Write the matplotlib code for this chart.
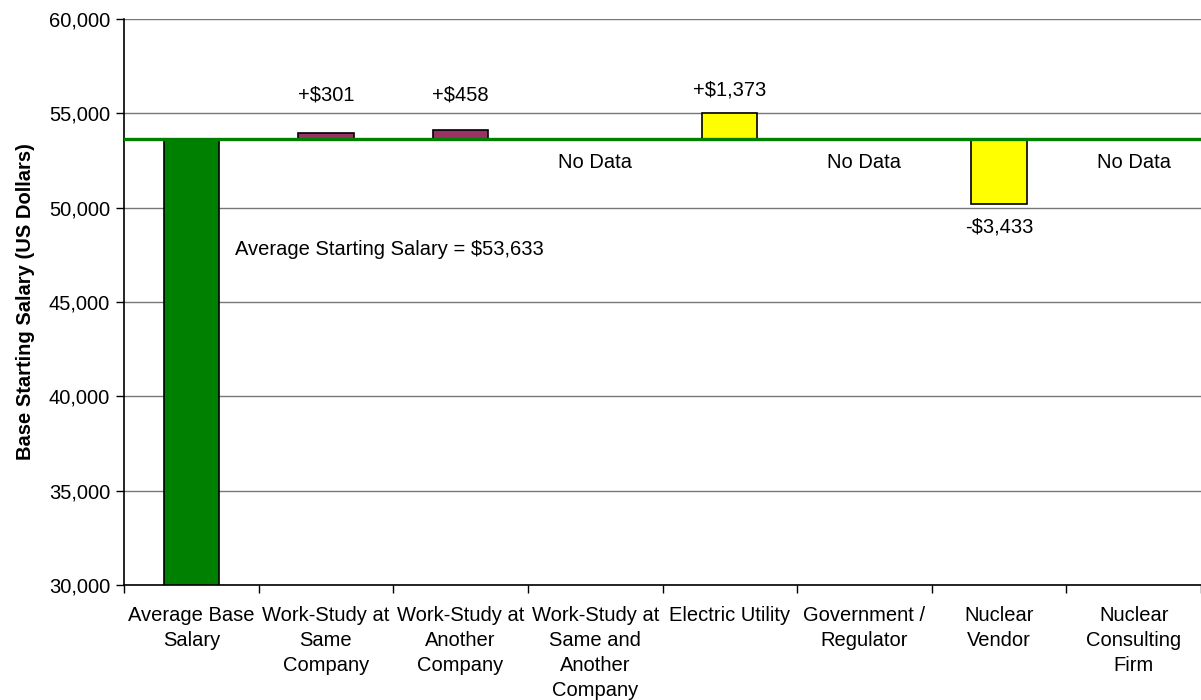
import matplotlib
matplotlib.use("Agg")
import matplotlib.pyplot as plt

plt.rcParams['font.family'] = ['Liberation Sans', 'DejaVu Sans']

categories = ["Average Base\nSalary", "Work-Study at\nSame\nCompany",
              "Work-Study at\nAnother\nCompany", "Work-Study at\nSame and\nAnother\nCompany",
              "Electric Utility", "Government /\nRegulator", "Nuclear\nVendor",
              "Nuclear\nConsulting\nFirm"]
base_salary = 53633
differences = [None, 301, 458, None, 1373, None, -3433, None]
diff_labels = ["", "+$301", "+$458", "No Data", "+$1,373", "No Data", "-$3,433", "No Data"]
bar_colors = ["#008000", "#993366", "#993366", None, "#FFFF00", None, "#FFFF00", None]
label_y = [None, 55970, 55970, 52370, 56250, 52370, 48950, 52370]

ymin, ymax = 30000, 60000

fig = plt.figure(figsize=(12.01, 7), dpi=100)
ax = fig.add_axes([124/1201, 1 - 585/700, 1 - 124/1201, (585 - 19)/700])

fs = 14.5
# base bar
ax.bar(0, base_salary - ymin, bottom=ymin, width=0.41, color=bar_colors[0],
       edgecolor='black', linewidth=1.2, zorder=3)
for i, d in enumerate(differences):
    if d is not None:
        ax.bar(i, d, bottom=base_salary, width=0.41, color=bar_colors[i],
               edgecolor='black', linewidth=1.2, zorder=3)
    if label_y[i] is not None:
        ax.text(i, label_y[i], diff_labels[i], ha='center', va='center', fontsize=fs)

ax.axhline(base_salary, color='#008000', linewidth=2.4, zorder=4)
ax.text(0.325, 47760, "Average Starting Salary = $53,633", ha='left', va='center',
        fontsize=fs)

ax.set_ylim(ymin, ymax)
ax.set_xlim(-0.5, len(categories) - 0.5)
ax.set_yticks(range(30000, 60001, 5000))
ax.set_yticklabels([f"{v:,}" for v in range(30000, 60001, 5000)], fontsize=fs)
ax.yaxis.grid(True, color='#777777', linewidth=1.0, zorder=0)
ax.set_axisbelow(True)

ax.set_xticks([i - 0.5 for i in range(len(categories) + 1)])
ax.set_xticklabels([])
ax.set_xticks(range(len(categories)), minor=True)
ax.set_xticklabels(categories, minor=True, fontsize=fs, linespacing=1.4)
ax.tick_params(axis='x', which='minor', length=0, pad=15)
ax.tick_params(axis='x', which='major', length=6, width=1, direction='out')
ax.tick_params(axis='y', length=6, width=1, direction='out', pad=4)

for s in ['top', 'right']:
    ax.spines[s].set_visible(False)
ax.spines['left'].set_linewidth(1.2)
ax.spines['bottom'].set_linewidth(1.2)

ax.set_ylabel("Base Starting Salary (US Dollars)", fontsize=fs, fontweight='bold',
              labelpad=10)

fig.savefig("out.png", dpi=100)
